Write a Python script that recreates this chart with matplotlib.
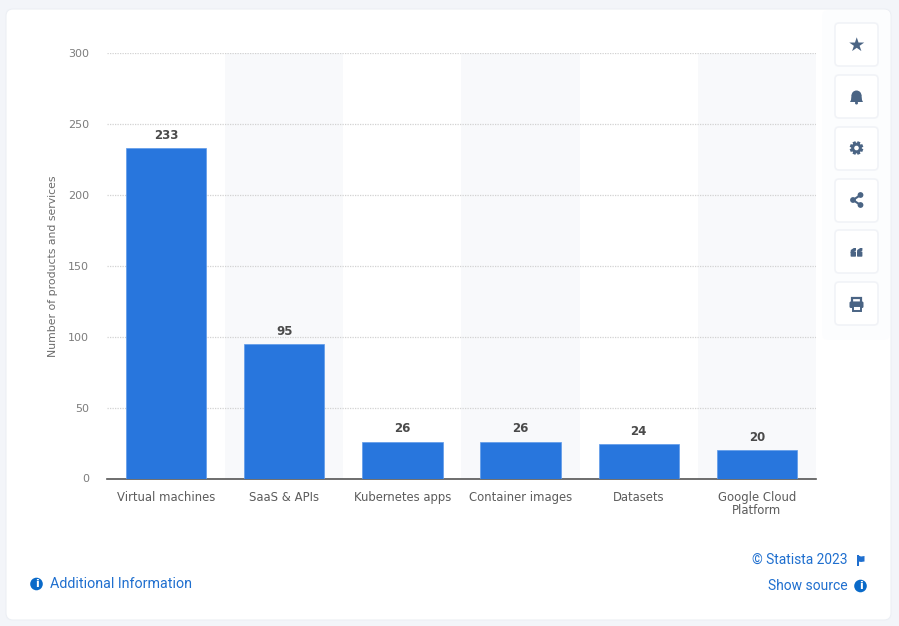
import numpy as np
import matplotlib
matplotlib.use('Agg')
import matplotlib.pyplot as plt
from matplotlib.patches import FancyBboxPatch, Circle, Polygon, Rectangle, Wedge

# データ
categories = ['Virtual machines', 'SaaS & APIs', 'Kubernetes apps', 'Container images', 'Datasets', 'Google Cloud\nPlatform']
values = [233, 95, 26, 26, 24, 20]
y_ticks = [0, 50, 100, 150, 200, 250, 300]
y_label = 'Number of products and services'

W, H = 899, 626
BLUE = '#2876dd'
LINK = '#1f6fcf'
INFO = '#0a6ac9'
ICON = '#4a6484'

fig = plt.figure(figsize=(W / 100, H / 100), dpi=100, facecolor='#f3f5f9')

# 背景のカード（ピクセル座標）
bg = fig.add_axes([0, 0, 1, 1], zorder=0)
bg.set_xlim(0, W)
bg.set_ylim(H, 0)
bg.axis('off')
bg.add_patch(FancyBboxPatch((6, 9), 885, 611, boxstyle='round,pad=0,rounding_size=7',
                            fc='white', ec='#eceff4', lw=0.8))
bg.add_patch(FancyBboxPatch((822, 10), 68, 330, boxstyle='round,pad=0,rounding_size=7',
                            fc='#fcfdfe', ec='none'))

# メインのグラフ
ax = fig.add_axes([107 / W, 1 - 478.5 / H, 709 / W, 425.5 / H], zorder=1)
ax.patch.set_alpha(0)
x = list(range(len(categories)))
for i in x:
    if i % 2 == 1:
        ax.axvspan(i - 0.5, i + 0.5, color='#f8f9fb', lw=0, zorder=0)
ax.bar(x, values, width=0.68, color=BLUE, edgecolor='#5e99e9', linewidth=0.5, zorder=3)
for i, v in zip(x, values):
    ax.annotate(str(v), (i, v), xytext=(0, 4.5), textcoords='offset points', ha='center', va='bottom',
                fontsize=8.5, fontweight='bold', color='#4a4a4a', family='DejaVu Sans')
ax.set_xlim(-0.5, 5.5)
ax.set_ylim(0, 300)
ax.set_yticks(y_ticks)
ax.set_xticks(x)
ax.set_xticklabels(categories, fontsize=8.4, color='#5c5c5c', linespacing=1.05)
ax.tick_params(axis='both', length=0)
ax.tick_params(axis='x', pad=9)
ax.tick_params(axis='y', pad=13, labelsize=8, labelcolor='#7c7c7c')
ax.grid(axis='y', color='#d2d2d2', linestyle=(0, (1, 1)), linewidth=0.9, zorder=1)
ax.set_axisbelow(True)
for s in ['top', 'right', 'left']:
    ax.spines[s].set_visible(False)
ax.spines['bottom'].set_color('#555555')
ax.spines['bottom'].set_linewidth(1.2)
ax.set_zorder(1)

# 前面のオーバーレイ（文字とアイコン）
ui = fig.add_axes([0, 0, 1, 1], zorder=2)
ui.set_xlim(0, W)
ui.set_ylim(H, 0)
ui.axis('off')
ui.text(53, 266, y_label, rotation=90, ha='center', va='center', fontsize=7.8, color='#6b6b6b')


def info_icon(cx, cy):
    ui.add_patch(Circle((cx, cy), 6.3, fc=INFO, ec='none'))
    ui.text(cx, cy + 0.3, 'i', color='white', fontsize=8, fontweight='bold', ha='center', va='center')


info_icon(36.5, 584)
ui.text(49.5, 584, 'Additional Information', color=LINK, fontsize=10.3, family='Roboto', ha='left', va='center')
ui.text(848, 559.5, '© Statista 2023', color=LINK, fontsize=9.9, family='Roboto', ha='right', va='center')
ui.text(848, 586, 'Show source', color=LINK, fontsize=10, family='Roboto', ha='right', va='center')
info_icon(860.5, 586)
ui.add_patch(Rectangle((857, 555), 1.6, 10.5, fc=LINK, ec='none'))
ui.add_patch(Polygon([(858.5, 555.5), (861, 556.5), (864.5, 556), (864.5, 561.5), (861, 562), (858.5, 561.5)], fc=LINK, ec='none'))

# 右側のボタン
button_tops = [23, 75, 127, 179, 230, 282]
button_h = 43
for top in button_tops:
    ui.add_patch(FancyBboxPatch((835, top), 43, button_h, boxstyle='round,pad=0,rounding_size=4',
                                fc='white', ec='#f1f3f7', lw=1.2, zorder=0.5))
cx = 856.5
# star
ui.text(cx, 45, '★', fontsize=14, color=ICON, ha='center', va='center', family='DejaVu Sans')
# bell
ui.add_patch(Wedge((cx, 95.5), 5, 180, 360, fc=ICON, ec='none'))
ui.add_patch(Polygon([(cx - 5, 95), (cx + 5, 95), (cx + 5.5, 100), (cx + 6.5, 102), (cx - 6.5, 102), (cx - 5.5, 100)], fc=ICON, ec='none'))
ui.add_patch(Circle((cx, 103), 1.5, fc=ICON, ec='none'))
# gear
for a in np.arange(4) * np.pi / 4 + np.pi / 8:
    ui.plot([cx - 6.8 * np.cos(a), cx + 6.8 * np.cos(a)], [148 - 6.8 * np.sin(a), 148 + 6.8 * np.sin(a)],
            color=ICON, lw=2.2, solid_capstyle='butt', zorder=0.9)
ui.add_patch(Circle((cx, 148), 5.3, fc=ICON, ec='none'))
ui.add_patch(Circle((cx, 148), 2.3, fc='white', ec='none'))
# share
ui.plot([cx + 4, cx - 3.5, cx + 4], [195, 200, 205], color=ICON, lw=1.5)
for px, py in [(cx + 4, 195), (cx - 3.5, 200), (cx + 4, 205)]:
    ui.add_patch(Circle((px, py), 2.9, fc=ICON, ec='none'))
# quote
for dx in (-3.2, 3.2):
    ui.add_patch(FancyBboxPatch((cx + dx - 2.7, 251.5), 5.4, 5.2, boxstyle='round,pad=0,rounding_size=0.8', fc=ICON, ec='none'))
    ui.add_patch(Polygon([(cx + dx - 2.7, 253), (cx + dx - 2.5, 250), (cx + dx + 0.5, 248), (cx + dx + 2.7, 248), (cx + dx + 2.7, 250.5), (cx + dx + 1, 251.8)], fc=ICON, ec='none'))
# print
ui.add_patch(Rectangle((cx - 4.5, 298), 9, 5, fc='white', ec=ICON, lw=1.6))
ui.add_patch(FancyBboxPatch((cx - 7, 301.5), 14, 6.5, boxstyle='round,pad=0,rounding_size=1.4', fc=ICON, ec='none'))
ui.add_patch(Rectangle((cx - 4, 305.5), 8, 5.5, fc='white', ec=ICON, lw=1.4))

fig.savefig('out.png', dpi=100, facecolor=fig.get_facecolor())
plt.close(fig)
